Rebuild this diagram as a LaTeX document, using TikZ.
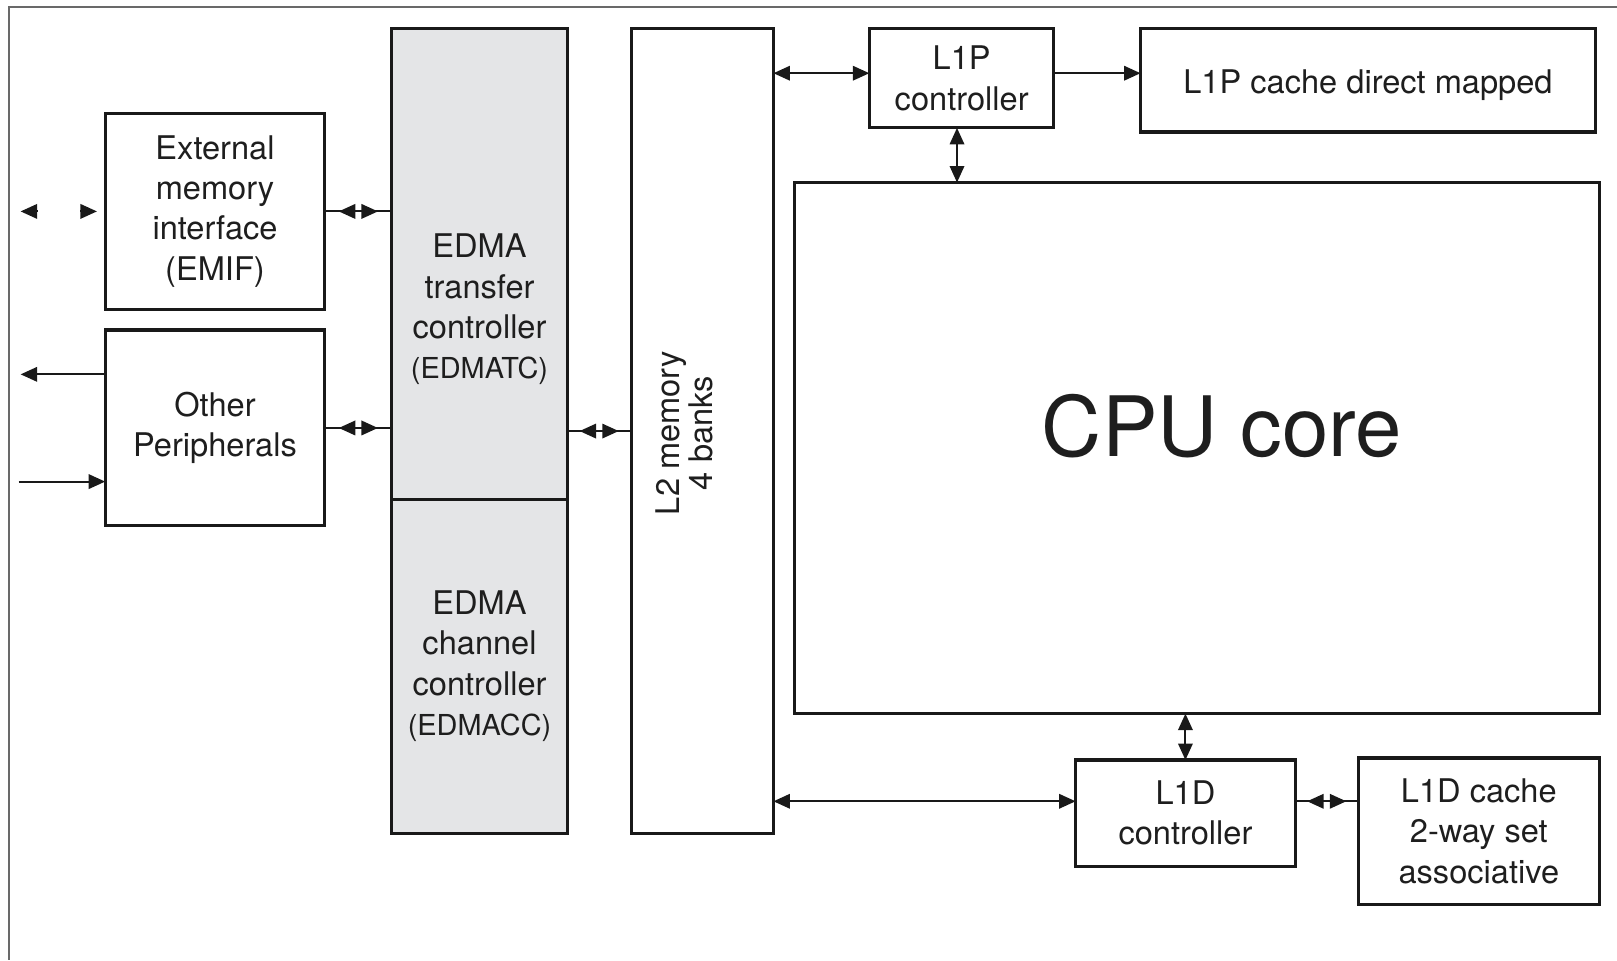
\documentclass[tikz,border=0pt]{standalone}
\usepackage{fontspec}
\setmainfont{TeX Gyre Heros}
\usetikzlibrary{arrows.meta,calc}
\definecolor{edmafill}{RGB}{228,229,231}
\definecolor{txt}{RGB}{30,30,30}
\definecolor{framegray}{RGB}{105,105,105}
\tikzset{
  blk/.style={draw=black!90, line width=1.5pt, text=txt, align=center, anchor=north west,
    inner sep=0pt, outer sep=0pt, font=\fontsize{15.8}{19.5}\selectfont},
  lbl/.style={text=txt, align=center, inner sep=0pt, font=\fontsize{15.8}{19.5}\selectfont},
  conn/.style={draw=black!90, line width=1pt},
  arr/.style={-{Triangle[length=8pt,width=7pt]}},
  arrs/.style={{Triangle[length=8pt,width=7pt]}-{Triangle[length=8pt,width=7pt]}},
}
\begin{document}
\begin{tikzpicture}[x=0.5pt,y=-0.5pt]
\useasboundingbox (0,0) rectangle (1568,931);
% frame
\coordinate (frTR) at (1568,7);
\coordinate (frTL) at (9,7);
\coordinate (frBL) at (9,931);
\draw[framegray, line width=1pt] (frTR) -- (frTL) -- (frBL);

% blocks
\node[blk, minimum width=106.5pt, minimum height=95pt] (emif) at (102,110) {External\\memory\\interface\\(EMIF)};
\node[blk, minimum width=106.5pt, minimum height=95pt] (oth) at (102,320) {Other\\Peripherals};
\node[blk, fill=edmafill, minimum width=85pt, minimum height=228pt] (edmatc) at (380,28) {};
\node[blk, fill=edmafill, minimum width=85pt, minimum height=162pt] (edmacc) at (380,484) {EDMA\\channel\\controller\\{\fontsize{14}{19.5}\selectfont (EDMACC)}};
\node[blk, minimum width=69pt, minimum height=390pt] (l2) at (612,28) {};
\node[blk, minimum width=89.5pt, minimum height=48pt] (l1pc) at (843,28) {L1P\\controller};
\node[blk, minimum width=220.5pt, minimum height=50pt] (l1pcache) at (1106,28) {\raisebox{-2.5pt}[\height][\depth]{L1P cache direct mapped}};
\node[blk, minimum width=390.5pt, minimum height=257.5pt] (cpu) at (770,177) {};
\node[blk, minimum width=106.5pt, minimum height=51.5pt] (l1dc) at (1043,737) {L1D\\controller};
\node[blk, minimum width=117pt, minimum height=71pt] (l1dcache) at (1317,735) {L1D cache\\2-way set\\associative};

% texts placed off-centre
\node[lbl] (edmatctext) at (465,300) {EDMA\\transfer\\controller\\{\fontsize{14}{19.5}\selectfont (EDMATC)}};
\node[lbl, rotate=90, font=\fontsize{15.8}{14}\selectfont] (l2text) at (664,420) {L2 memory\\4 banks};
\node[lbl, font=\fontsize{40.4}{48}\selectfont] (cputext) at (1185,413) {CPU core};

% EMIF external arrowheads
\coordinate (eL1) at (36,205);
\coordinate (eL2) at (20,205);
\coordinate (eR1) at (78,205);
\coordinate (eR2) at (94,205);
\draw[conn,arr] (eL1) -- (eL2);
\draw[conn,arr] (eR1) -- (eR2);

% EMIF <-> EDMATC
\draw[conn] (emif.east) -- coordinate (m1) (emif.east -| edmatc.west);
\draw[conn,arr] (m1) -- ($(m1)+(-19,0)$);
\draw[conn,arr] (m1) -- ($(m1)+(19,0)$);

% Other peripherals
\coordinate (oOut) at (20,363);
\coordinate (oIn) at (18,467);
\draw[conn,arr] (oth.west |- oOut) -- (oOut);
\draw[conn,arr] (oIn) -- (oIn -| oth.west);
\draw[conn] (oth.east) -- coordinate (m2) (oth.east -| edmatc.west);
\draw[conn,arr] (m2) -- ($(m2)+(-19,0)$);
\draw[conn,arr] (m2) -- ($(m2)+(19,0)$);

% EDMATC <-> L2
\coordinate (p0) at (edmatc.east |- 0,418);
\draw[conn] (p0) -- coordinate (m3) (p0 -| l2.west);
\draw[conn,arr] (m3) -- ($(m3)+(-19,0)$);
\draw[conn,arr] (m3) -- ($(m3)+(19,0)$);

% L2 <-> L1P controller, L1P controller -> L1P cache
\coordinate (p1) at ([yshift=2.5pt]l1pc.west);
\coordinate (p2) at ([yshift=2.5pt]l1pc.east);
\draw[conn,arrs] (p1 -| l2.east) -- (p1);
\draw[conn,arr] (p2) -- (p2 -| l1pcache.west);

% L1P controller <-> CPU
\coordinate (p3) at ([xshift=-2.25pt]l1pc.south);
\draw[conn,arrs] (p3) -- (p3 |- cpu.north);

% CPU <-> L1D controller
\draw[conn,arrs] (l1dc.north |- cpu.south) -- (l1dc.north);

% L2 <-> L1D controller
\coordinate (p4) at ([yshift=5.75pt]l1dc.west);
\draw[conn,arrs] (p4 -| l2.east) -- (p4);

% L1D controller <-> L1D cache
\coordinate (p5) at ([yshift=5.75pt]l1dc.east);
\draw[conn] (p5) -- coordinate (m4) (p5 -| l1dcache.west);
\draw[conn,arr] (m4) -- ($(m4)+(-19,0)$);
\draw[conn,arr] (m4) -- ($(m4)+(19,0)$);
\end{tikzpicture}
\end{document}
